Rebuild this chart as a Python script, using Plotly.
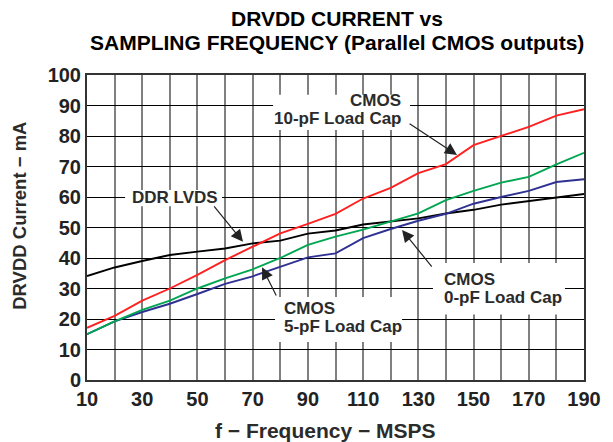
import plotly.graph_objects as go

# ---- data ----
freq = [10, 20, 30, 40, 50, 60, 70, 80, 90, 100, 110, 120, 130, 140, 150, 160, 170, 180, 190]
cmos_10pf = [17.1, 21.0, 26.0, 30.0, 34.5, 39.3, 43.7, 48.1, 51.2, 54.5, 59.5, 63.0, 67.8, 70.8, 77.0, 80.0, 83.0, 86.7, 88.8]
cmos_5pf = [15.0, 19.2, 23.0, 26.0, 30.0, 33.3, 36.3, 40.0, 44.3, 47.0, 49.3, 52.0, 54.6, 59.0, 62.0, 64.7, 66.6, 70.7, 74.5]
cmos_0pf = [15.0, 19.2, 22.3, 25.0, 28.2, 31.5, 34.0, 37.0, 40.2, 41.5, 46.5, 49.5, 52.2, 54.5, 57.8, 60.0, 62.0, 64.9, 65.8]
ddr_lvds = [34.1, 36.9, 39.0, 41.0, 42.1, 43.1, 44.8, 45.7, 48.0, 49.0, 51.0, 52.0, 53.0, 54.6, 55.8, 57.5, 58.7, 59.8, 61.0]

x_tick_vals = [10, 20, 30, 40, 50, 60, 70, 80, 90, 100, 110, 120, 130, 140, 150, 160, 170, 180, 190]
x_tick_text = ["10", "", "30", "", "50", "", "70", "", "90", "", "110", "", "130", "", "150", "", "170", "", "190"]
y_tick_vals = [0, 10, 20, 30, 40, 50, 60, 70, 80, 90, 100]

title_lines = ["DRVDD CURRENT vs", "SAMPLING FREQUENCY (Parallel CMOS outputs)"]
x_title = "f \u2212 Frequency \u2212 MSPS"
y_title = "DRVDD Current \u2212 mA"

FONT = "Arial, 'Liberation Sans', Helvetica, sans-serif"
TXT = "#2b2b2b"

fig = go.Figure()
series = [
    ("DDR LVDS", ddr_lvds, "#000000"),
    ("CMOS 0-pF Load Cap", cmos_0pf, "#2e3192"),
    ("CMOS 5-pF Load Cap", cmos_5pf, "#00a651"),
    ("CMOS 10-pF Load Cap", cmos_10pf, "#ff2020"),
]
for name, ys, color in series:
    fig.add_trace(go.Scatter(x=freq, y=ys, mode="lines", name=name,
                             line=dict(color=color, width=1.9), showlegend=False))

# white boxes behind the callout texts (hide grid lines)
boxes = [
    (77.4, 127.0, 82.0, 93.5),
    (23.8, 58.9, 57.0, 62.3),
    (78.1, 124.1, 12.5, 27.2),
    (135.3, 183.1, 21.5, 38.4),
]
for x0, x1, y0, y1 in boxes:
    fig.add_shape(type="rect", xref="x", yref="y", x0=x0, x1=x1, y0=y0, y1=y1,
                  fillcolor="white", line=dict(width=0), layer="between")

afont = dict(family=FONT, size=17, color=TXT, weight="bold")
texts = [
    ("CMOS", 124.5, 91.6, "right"),
    ("10-pF Load Cap", 124.8, 85.8, "right"),
    ("DDR LVDS", 41.7, 60.0, "center"),
    ("CMOS", 80.6, 23.3, "left"),
    ("5-pF Load Cap", 80.6, 17.7, "left"),
    ("CMOS", 138.6, 32.8, "left"),
    ("0-pF Load Cap", 138.6, 27.2, "left"),
]
for t, x, y, anc in texts:
    fig.add_annotation(text=t, x=x, y=y, xref="x", yref="y", xanchor=anc, yanchor="middle",
                       showarrow=False, font=afont)

arrows = [
    (144.0, 73.8, 126.3, 84.3),
    (66.5, 45.3, 55.6, 57.4),
    (73.4, 37.0, 78.8, 27.2),
    (124.1, 49.2, 135.3, 36.7),
]
for hx, hy, tx, ty in arrows:
    fig.add_annotation(text="", x=hx, y=hy, ax=tx, ay=ty, xref="x", yref="y",
                       axref="x", ayref="y", showarrow=True, arrowhead=2,
                       arrowsize=2.0, arrowwidth=1.2, arrowcolor="#222222")

# titles
tfont = dict(family=FONT, size=21, color="#000000", weight="bold")
fig.add_annotation(text=title_lines[0], x=0.503, y=1.184, xref="paper", yref="paper",
                   showarrow=False, xanchor="center", yanchor="middle", font=tfont)
fig.add_annotation(text=title_lines[1], x=0.503, y=1.105, xref="paper", yref="paper",
                   showarrow=False, xanchor="center", yanchor="middle", font=tfont)
fig.add_annotation(text=x_title, x=0.479, y=-0.164, xref="paper", yref="paper",
                   showarrow=False, xanchor="center", yanchor="middle",
                   font=dict(family=FONT, size=21, color=TXT, weight="bold"))
fig.add_annotation(text=y_title, x=-0.135, y=0.538, xref="paper", yref="paper",
                   showarrow=False, xanchor="center", yanchor="middle", textangle=-90,
                   font=dict(family=FONT, size=18.5, color=TXT, weight="bold"))

tickfont = dict(family=FONT, size=20, color="#222222", weight="bold")
# the page body has an 8px default offset, so margins are shifted to compensate
fig.update_layout(
    width=613, height=442,
    margin=dict(l=79, r=37, t=67, b=70, autoexpand=False),
    paper_bgcolor="white", plot_bgcolor="white",
    xaxis=dict(range=[10, 190], tickvals=x_tick_vals, ticktext=x_tick_text,
               showgrid=True, gridcolor="#808080", gridwidth=1.6,
               showline=True, linecolor="#333333", linewidth=2, mirror=True,
               ticks="", zeroline=False, tickfont=tickfont),
    yaxis=dict(range=[0, 100], tickvals=y_tick_vals,
               showgrid=True, gridcolor="#000000", gridwidth=1.3,
               showline=True, linecolor="#333333", linewidth=2, mirror=True,
               ticks="", zeroline=False, tickfont=tickfont),
)

fig.write_html("out.html")
